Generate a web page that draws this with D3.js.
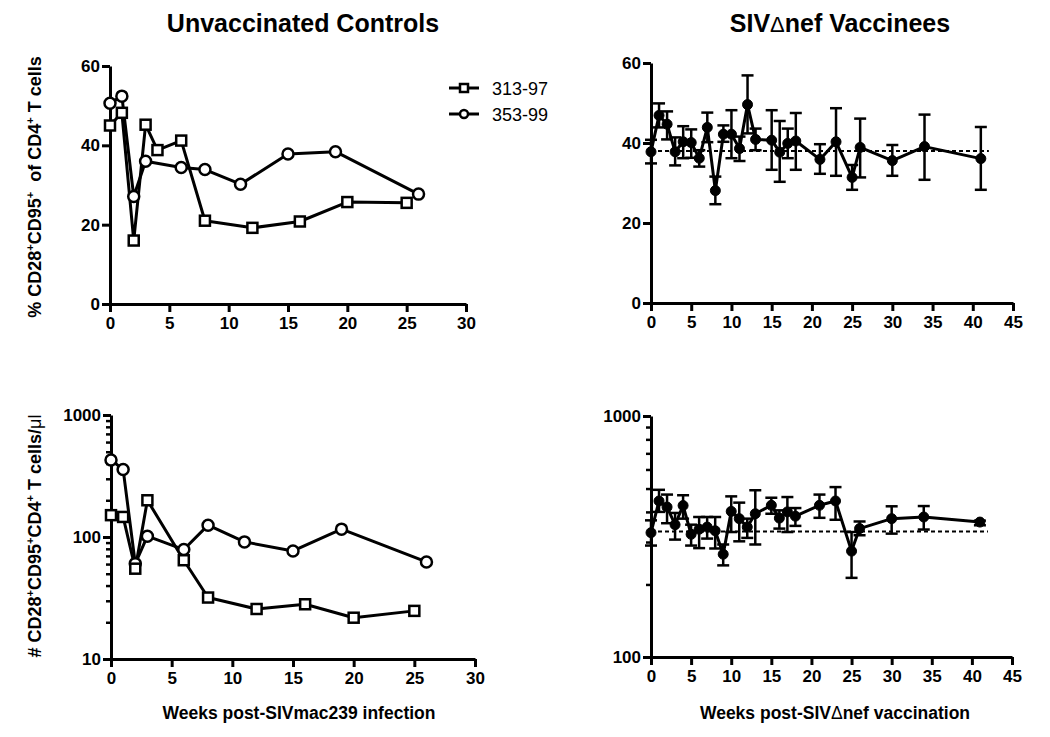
<!DOCTYPE html>
<html>
<head>
<script src="https://cdnjs.cloudflare.com/ajax/libs/d3/7.8.2/d3.min.js"></script>
<style>
	body { margin: 0; background: #fff; }
	svg { font-family: Arial, "Liberation Sans", sans-serif; }
	.tick text { font-size: 17px; font-weight: bold; fill: #000; }
	.axis path, .axis line { stroke: #000; stroke-width: 3; }
	.minor line { stroke: #000; stroke-width: 2.5; }
</style>
</head>
<body>
<svg id="canvas" width="1050" height="737"></svg>
<script>
	// ---- data ----
	// unvaccinated controls, % CD28+CD95+ of CD4+
	let weeks_a = [0, 1, 2, 3, 4, 6, 8, 12, 16, 20, 25] ;
	let pct_a   = [45, 48.2, 16, 45.2, 38.8, 41.2, 21, 19.2, 20.8, 25.7, 25.5] ;
	let weeks_b = [0, 1, 2, 3, 6, 8, 11, 15, 19, 26] ;
	let pct_b   = [50.6, 52.4, 27.1, 36, 34.4, 33.9, 30.2, 37.8, 38.4, 27.7] ;

	// unvaccinated controls, # CD28+CD95+CD4+ per ul
	let cweeks_a = [0, 1, 2, 3, 6, 8, 12, 16, 20, 25] ;
	let count_a  = [151, 146, 55, 200, 64.5, 31.9, 25.7, 28.1, 21.8, 24.8] ;
	let cweeks_b = [0, 1, 2, 3, 6, 8, 11, 15, 19, 26] ;
	let count_b  = [428, 358, 60.5, 101.6, 78.9, 125, 91.2, 76.9, 116, 62.5] ;

	let legend_names = ["313-97", "353-99"] ;

	// SIVdeltanef vaccinees, mean with error bar ends
	let vweeks  = [0, 1, 2, 3, 4, 5, 6, 7, 8, 9, 10, 11, 12, 13, 15, 16, 17, 18, 21, 23, 25, 26, 30, 34, 41] ;
	let vpct    = [37.8, 46.9, 44.7, 37.8, 40.3, 40.1, 36.2, 43.9, 28.1, 42.2, 42.2, 38.6, 49.6, 40.9, 40.7, 37.7, 39.9, 40.5, 35.9, 40.3, 31.4, 38.9, 35.6, 39.1, 36.1] ;
	let vpct_lo = [34.9, 43.9, 40.9, 34.4, 36.2, 36.3, 34.1, 40.2, 24.7, 40.3, 36.2, 35.5, 42.4, 38.2, 33.3, 30.3, 36.2, 33.3, 32.3, 31.8, 28.3, 31.4, 31.8, 30.8, 28.3] ;
	let vpct_hi = [40.8, 49.9, 47.9, 41.4, 44.2, 43.4, 38.2, 47.6, 31.6, 44.4, 48.2, 41.6, 56.9, 43.6, 48.2, 45.5, 43.6, 47.5, 39.7, 48.7, 34.5, 46.1, 39.5, 47.1, 44.0] ;
	let vpct_base = 38 ;

	let vcount    = [328, 444, 419, 354, 425, 323, 339, 346, 334, 267, 402, 375, 346, 393, 426, 377, 400, 384, 426, 444, 275, 341, 375, 381, 363] ;
	let vcount_lo = [290, 400, 359, 307, 375, 290, 283, 310, 282, 240, 330, 302, 312, 293, 393, 341, 330, 350, 378, 371, 213, 320, 325, 338, 352] ;
	let vcount_hi = [369, 494, 472, 396, 469, 354, 381, 381, 381, 293, 464, 437, 375, 492, 458, 406, 461, 415, 472, 507, 330, 365, 422, 423, 368] ;
	let vcount_base = 332 ;
	let baseline_end = 42 ;

	let xticks_a = [0, 5, 10, 15, 20, 25, 30] ;
	let xticks_v = [0, 5, 10, 15, 20, 25, 30, 35, 40, 45] ;
	let yticks_pct = [0, 20, 40, 60] ;
	let yticks_log_a = [10, 100, 1000] ;
	let yticks_log_v = [100, 1000] ;
	let minor_log_a = [20, 30, 40, 50, 60, 70, 80, 90, 200, 300, 400, 500, 600, 700, 800, 900] ;
	let minor_log_v = [200, 300, 400, 500, 600, 700, 800, 900] ;
</script>
<script>
	let svg = d3.select('#canvas') ;

	let panel = function(xr, yr, xdom, ydom, log, xticks, yticks, minor) {
		let x = d3.scaleLinear().domain(xdom).range(xr) ;
		let y = (log ? d3.scaleLog() : d3.scaleLinear()).domain(ydom).range(yr) ;
		let g = svg.append('g') ;
		g.append('g')
			.attr('class', 'axis')
			.attr('transform', 'translate(0,' + yr[0] + ')')
			.call(d3.axisBottom(x).tickValues(xticks).tickSize(8).tickSizeOuter(0).tickPadding(5)) ;
		if (minor) {
			g.append('g')
				.attr('class', 'minor')
				.attr('transform', 'translate(' + xr[0] + ',0)')
				.call(d3.axisLeft(y).tickValues(minor).tickSize(5).tickFormat(''))
				.call(a => a.select('.domain').remove())
				.call(a => a.selectAll('text').remove()) ;
		}
		g.append('g')
			.attr('class', 'axis')
			.attr('transform', 'translate(' + xr[0] + ',0)')
			.call(d3.axisLeft(y).tickValues(yticks).tickSize(8).tickSizeOuter(0).tickPadding(2)
				.tickFormat(d3.format('d'))) ;
		g.selectAll('.tick text').attr('fill', '#000') ;
		return { g: g, x: x, y: y } ;
	} ;

	let square = function(g, cx, cy, s) {
		g.append('rect')
			.attr('x', cx - s / 2).attr('y', cy - s / 2)
			.attr('width', s).attr('height', s)
			.attr('fill', '#fff').attr('stroke', '#000').attr('stroke-width', 2.5) ;
	} ;
	let circle = function(g, cx, cy, r, filled) {
		g.append('circle')
			.attr('cx', cx).attr('cy', cy).attr('r', r)
			.attr('fill', filled ? '#000' : '#fff')
			.attr('stroke', '#000').attr('stroke-width', filled ? 1 : 2.5) ;
	} ;

	let lineOf = function(p, g, xs, ys) {
		let pts = xs.map((d, i) => [d, ys[i]]) ;
		g.append('path')
			.attr('d', d3.line().x(d => p.x(d[0])).y(d => p.y(d[1]))(pts))
			.attr('fill', 'none').attr('stroke', '#000').attr('stroke-width', 3)
			.attr('stroke-linejoin', 'round') ;
	} ;

	let controls = function(p, xa, ya, xb, yb) {
		let g = p.g.append('g') ;
		lineOf(p, g, xb, yb) ;
		lineOf(p, g, xa, ya) ;
		xb.forEach((d, i) => circle(g, p.x(d), p.y(yb[i]), 5.5, false)) ;
		xa.forEach((d, i) => square(g, p.x(d), p.y(ya[i]), 10)) ;
	} ;

	let vaccinees = function(p, m, lo, hi, base) {
		let g = p.g.append('g') ;
		g.append('line')
			.attr('x1', p.x(0)).attr('x2', p.x(baseline_end))
			.attr('y1', p.y(base)).attr('y2', p.y(base))
			.attr('stroke', '#000').attr('stroke-width', 2).attr('stroke-dasharray', '4,3') ;
		vweeks.forEach((d, i) => {
			let cx = p.x(d) ;
			g.append('line').attr('x1', cx).attr('x2', cx)
				.attr('y1', p.y(lo[i])).attr('y2', p.y(hi[i]))
				.attr('stroke', '#000').attr('stroke-width', 2.5) ;
			[lo[i], hi[i]].forEach(v => {
				g.append('line').attr('x1', cx - 6).attr('x2', cx + 6)
					.attr('y1', p.y(v)).attr('y2', p.y(v))
					.attr('stroke', '#000').attr('stroke-width', 2.5) ;
			}) ;
		}) ;
		lineOf(p, g, vweeks, m) ;
		vweeks.forEach((d, i) => circle(g, p.x(d), p.y(m[i]), 5, true)) ;
	} ;

	let p1 = panel([110, 466], [304, 66], [0, 30], [0, 60], false, xticks_a, yticks_pct, null) ;
	controls(p1, weeks_a, pct_a, weeks_b, pct_b) ;

	let p2 = panel([651, 1013], [303, 63], [0, 45], [0, 60], false, xticks_v, yticks_pct, null) ;
	vaccinees(p2, vpct, vpct_lo, vpct_hi, vpct_base) ;

	let p3 = panel([111, 475], [659, 415], [0, 30], [10, 1000], true, xticks_a, yticks_log_a, minor_log_a) ;
	controls(p3, cweeks_a, count_a, cweeks_b, count_b) ;

	let p4 = panel([651, 1012], [657, 416], [0, 45], [100, 1000], true, xticks_v, yticks_log_v, minor_log_v) ;
	vaccinees(p4, vcount, vcount_lo, vcount_hi, vcount_base) ;

	// legend
	let leg = svg.append('g') ;
	legend_names.forEach((name, i) => {
		let ly = 88 + i * 26 ;
		leg.append('line').attr('x1', 449).attr('x2', 479).attr('y1', ly).attr('y2', ly)
			.attr('stroke', '#000').attr('stroke-width', 3) ;
		if (i == 0) square(leg, 464, ly, 8) ; else circle(leg, 464, ly, 4, false) ;
		leg.append('text').attr('x', 492).attr('y', ly + 6.5)
			.attr('font-size', 18).text(name) ;
	}) ;

	// titles
	svg.append('text').attr('x', 303).attr('y', 32).attr('text-anchor', 'middle')
		.attr('font-size', 25).attr('font-weight', 'bold').text('Unvaccinated Controls') ;
	let t2 = svg.append('text').attr('x', 840).attr('y', 32).attr('text-anchor', 'middle')
		.attr('font-size', 25).attr('font-weight', 'bold') ;
	t2.append('tspan').text('SIV') ;
	t2.append('tspan').attr('font-weight', 'normal').attr('font-size', 22).text('\u0394') ;
	t2.append('tspan').text('nef Vaccinees') ;

	// axis labels; pieces are [text, superscript?, normal weight?]
	let label = function(t, parts) {
		let up = false ;
		parts.forEach(p => {
			let s = t.append('tspan').text(p[0]) ;
			if (p[1]) { s.attr('font-size', 11).attr('dy', -7) ; up = true ; }
			else if (up) { s.attr('dy', 7) ; up = false ; }
			if (p[2]) s.attr('font-weight', 'normal') ;
		}) ;
	} ;
	let yl1 = svg.append('text').attr('transform', 'translate(41,187) rotate(-90)')
		.attr('text-anchor', 'middle').attr('font-size', 18).attr('font-weight', 'bold') ;
	label(yl1, [['% CD28'], ['+', 1], ['CD95'], ['+', 1], ['\u00a0 of CD4'], ['+', 1], [' T cells']]) ;

	let yl2 = svg.append('text').attr('transform', 'translate(41,536) rotate(-90)')
		.attr('text-anchor', 'middle').attr('font-size', 18).attr('font-weight', 'bold') ;
	label(yl2, [['# CD28'], ['+', 1], ['CD95'], ['+', 1], ['CD4'], ['+', 1], [' T cells/'], ['\u03bcl', 0, 1]]) ;

	svg.append('text').attr('x', 299).attr('y', 719).attr('text-anchor', 'middle')
		.attr('font-size', 17.5).attr('font-weight', 'bold').text('Weeks post-SIVmac239 infection') ;
	let xl2 = svg.append('text').attr('x', 835).attr('y', 719).attr('text-anchor', 'middle')
		.attr('font-size', 17.5).attr('font-weight', 'bold') ;
	xl2.append('tspan').text('Weeks post-SIV') ;
	xl2.append('tspan').attr('font-weight', 'normal').text('\u0394') ;
	xl2.append('tspan').text('nef vaccination') ;
</script>
</body>
</html>
